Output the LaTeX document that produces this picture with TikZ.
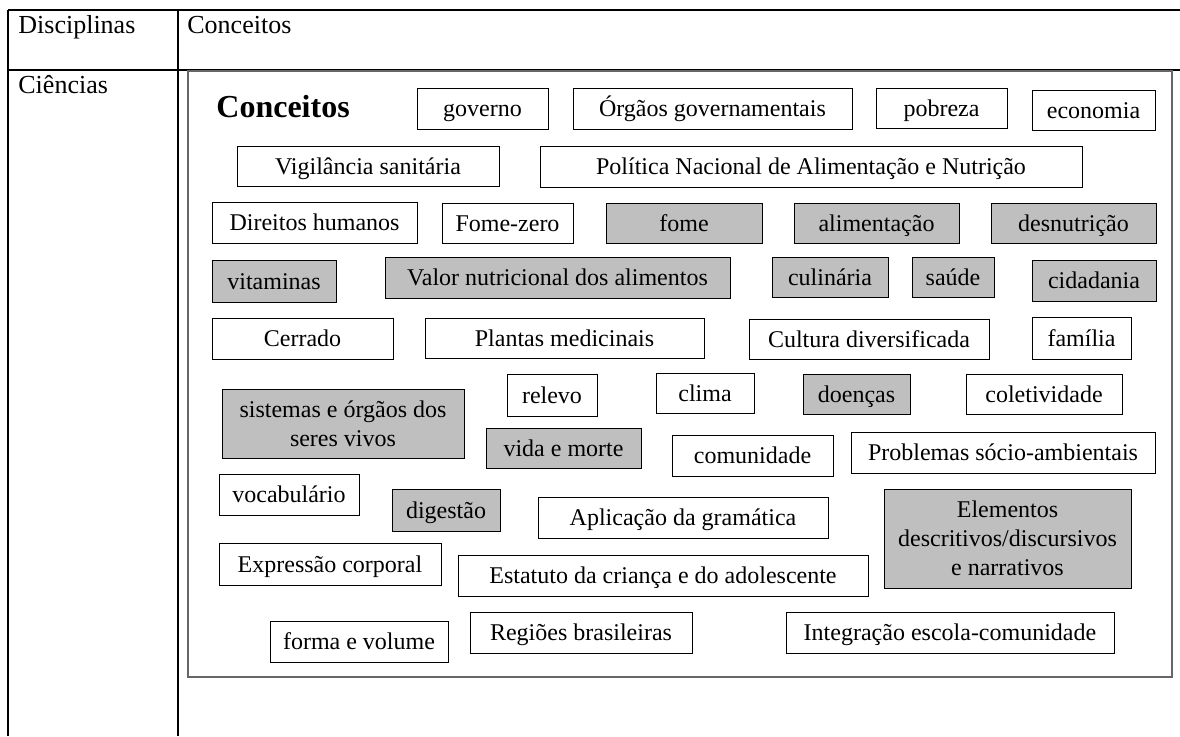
\documentclass[tikz,border=0pt]{standalone}
\usepackage{fontspec}
\setmainfont{Liberation Serif}

\tikzset{
  caixa/.style={draw, inner sep=0pt, line width=0.5pt, align=center,
    font=\fontsize{12}{14.5}\selectfont},
  linha/.style={caixa, text height=10pt, text depth=2pt},
  cinza/.style={fill=black!25},
  canto/.style n args={4}{at={({(#1+#3)/2},{(#2+#4)/2})},
    minimum width={(#3-#1)*0.5pt}, minimum height={(#4-#2)*0.5pt}},
  tabtexto/.style={anchor=base west, inner sep=0pt, font=\fontsize{13}{15}\selectfont},
}

\begin{document}
\begin{tikzpicture}[x=0.5pt,y=-0.5pt]
		\useasboundingbox (0,0) rectangle (1180,736);
		\coordinate (TopL)  at (8,10);
		\coordinate (TopR)  at (1180,10);
		\coordinate (MidL)  at (8,70);
		\coordinate (MidR)  at (1180,70);
		\coordinate (BotL)  at (8,736);
		\coordinate (SepT)  at (178,10);
		\coordinate (SepB)  at (178,736);
		\draw [line width=0.6pt] (TopL) -- (TopR);% top rule
		\draw [line width=0.6pt] (MidL) -- (MidR);% header rule
		\draw [line width=0.6pt] (TopL) -- (BotL);% left side
		\draw [line width=0.6pt] (SepT) -- (SepB);% column rule

		\node[tabtexto] (disc) at (18,33) {Disciplinas};
		\node[tabtexto] (conc) at (187,33) {Conceitos};
		\node[tabtexto] (cien) at (18,93) {Ciências};

		% the frame with all the concepts
		\node[canto={188}{71}{1172}{677}, draw=black!60, line width=1pt, inner sep=0pt] (quadro) {};
		\node[anchor=base west, inner sep=0pt, font=\fontsize{16}{18}\selectfont\bfseries] (titulo) at (216,117) {Conceitos};

		\node[linha, canto={417}{88}{548}{129}] (governo) {governo};
		\node[linha, canto={573}{88}{852}{129}] (orgaos) {Órgãos governamentais};
		\node[linha, canto={876}{88}{1007}{128}] (pobreza) {pobreza};
		\node[linha, canto={1032}{90}{1155}{130}] (economia) {economia};

		\node[linha, canto={237}{146}{499}{186}] (vigilancia) {Vigilância sanitária};
		\node[linha, canto={540}{146}{1082}{187}] (politica) {Política Nacional de Alimentação e Nutrição};

		\node[linha, canto={212}{202}{417}{243}] (direitos) {Direitos humanos};
		\node[linha, canto={442}{203}{573}{243}] (fomezero) {Fome-zero};
		\node[linha, cinza, canto={606}{203}{762}{243}] (fome) {fome};
		\node[linha, cinza, canto={794}{203}{959}{243}] (alimentacao) {alimentação};
		\node[linha, cinza, canto={991}{203}{1156}{243}] (desnutricao) {desnutrição};

		\node[linha, cinza, canto={212}{260}{336}{302}] (vitaminas) {vitaminas};
		\node[linha, cinza, canto={385}{257}{730}{298}] (valor) {Valor nutricional dos alimentos};
		\node[linha, cinza, canto={772}{257}{888}{297}] (culinaria) {culinária};
		\node[linha, cinza, canto={912}{257}{994}{297}] (saude) {saúde};
		\node[linha, cinza, canto={1032}{260}{1156}{301}] (cidadania) {cidadania};

		\node[linha, canto={212}{318}{393}{359}] (cerrado) {Cerrado};
		\node[linha, canto={425}{318}{704}{358}] (plantas) {Plantas medicinais};
		\node[linha, canto={749}{319}{989}{359}] (cultura) {Cultura diversificada};
		\node[linha, canto={1032}{317}{1131}{359}] (familia) {família};

		\node[caixa, cinza, canto={222}{389}{464}{458}] (sistemas) {sistemas e órgãos dos\\ seres vivos};
		\node[linha, canto={507}{374}{597}{416}] (relevo) {relevo};
		\node[linha, canto={656}{373}{754}{413}] (clima) {clima};
		\node[linha, cinza, canto={803}{374}{910}{414}] (doencas) {doenças};
		\node[linha, canto={966}{374}{1122}{414}] (coletividade) {coletividade};

		\node[linha, cinza, canto={486}{428}{641}{468}] (vida) {vida e morte};
		\node[linha, canto={672}{435}{833}{476}] (comunidade) {comunidade};
		\node[linha, canto={851}{432}{1155}{473}] (problemas) {Problemas sócio-ambientais};

		\node[linha, canto={219}{474}{359}{515}] (vocabulario) {vocabulário};
		\node[linha, cinza, canto={392}{489}{500}{531}] (digestao) {digestão};
		\node[linha, canto={538}{497}{828}{538}] (aplicacao) {Aplicação da gramática};
		\node[caixa, cinza, canto={884}{489}{1131}{588}] (elementos) {Elementos\\ descritivos/discursivos\\ e narrativos};

		\node[linha, canto={219}{543}{441}{585}] (expressao) {Expressão corporal};
		\node[linha, canto={458}{555}{868}{596}] (estatuto) {Estatuto da criança e do adolescente};

		\node[linha, canto={270}{621}{448}{662}] (forma) {forma e volume};
		\node[linha, canto={470}{612}{692}{653}] (regioes) {Regiões brasileiras};
		\node[linha, canto={786}{612}{1114}{653}] (integracao) {Integração escola-comunidade};
\end{tikzpicture}
\end{document}
